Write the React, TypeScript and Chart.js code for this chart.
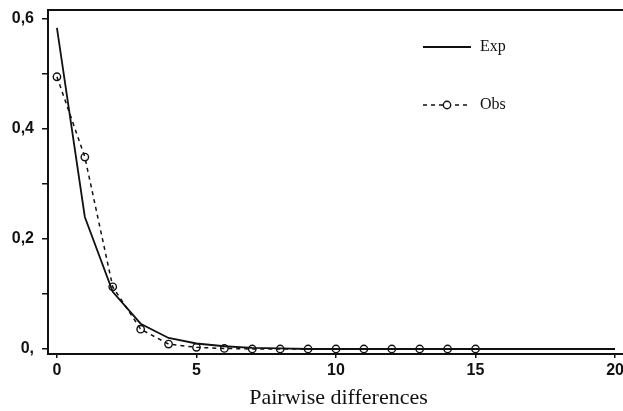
import React, { useEffect, useRef } from "react";
import { Chart, registerables } from "chart.js";

Chart.register(...registerables);

const expX = [0, 1, 2, 3, 4, 5, 6, 7, 8, 9, 10, 11, 12, 13, 14, 15, 16, 17, 18, 19, 20];
const expValues = [0.584, 0.24, 0.104, 0.046, 0.02, 0.01, 0.005, 0.002, 0.001, 0, 0, 0, 0, 0, 0, 0, 0, 0, 0, 0, 0];
const obsX = [0, 1, 2, 3, 4, 5, 6, 7, 8, 9, 10, 11, 12, 13, 14, 15];
const obsValues = [0.495, 0.349, 0.113, 0.036, 0.009, 0.003, 0.001, 0, 0, 0, 0, 0, 0, 0, 0, 0];
const xTicks = [0, 5, 10, 15, 20];
const yTicks = [0, 0.1, 0.2, 0.3, 0.4, 0.5, 0.6];
const yTickLabels = ["0,", "", "0,2", "", "0,4", "", "0,6"];
const seriesLabels = ["Exp", "Obs"];
const xTitle = "Pairwise differences";

const legendPlugin = {
  id: "insideLegend",
  afterDraw(chart: any) {
    const { ctx, chartArea } = chart;
    ctx.save();
    ctx.strokeStyle = "#111";
    ctx.lineWidth = 2;
    ctx.beginPath();
    ctx.moveTo(chartArea.left, chartArea.top);
    ctx.lineTo(chartArea.right, chartArea.top);
    ctx.stroke();

    const x0 = chartArea.left + 375;
    const x1 = chartArea.left + 423;
    const ys = [chartArea.top + 37, chartArea.top + 95];
    ctx.font = '16px "Liberation Serif", "Times New Roman", serif';
    ctx.textBaseline = "middle";
    ctx.fillStyle = "#111";
    chart.data.datasets.forEach((ds: any, i: number) => {
      const y = ys[i];
      ctx.strokeStyle = "#111";
      ctx.lineWidth = ds.borderWidth;
      ctx.setLineDash(ds.borderDash || []);
      ctx.beginPath();
      ctx.moveTo(x0, y);
      ctx.lineTo(x1, y);
      ctx.stroke();
      ctx.setLineDash([]);
      if (ds.pointRadius > 0) {
        ctx.lineWidth = 1.4;
        ctx.beginPath();
        ctx.arc((x0 + x1) / 2, y, ds.pointRadius, 0, Math.PI * 2);
        ctx.fillStyle = "#fff";
        ctx.fill();
        ctx.stroke();
        ctx.fillStyle = "#111";
      }
      ctx.fillText(ds.label, x1 + 9, y);
    });
    ctx.restore();
  },
};

export default function App() {
  const ref = useRef<HTMLCanvasElement | null>(null);
  useEffect(() => {
    if (!ref.current) return;
    const tickFont = { family: '"Liberation Sans", Arial, sans-serif', size: 16, weight: "bold" as const };
    const chart = new Chart(ref.current, {
      type: "line",
      data: {
        datasets: [
          {
            label: seriesLabels[0],
            data: expX.map((x, i) => ({ x, y: expValues[i] })),
            borderColor: "#111",
            borderWidth: 1.8,
            pointRadius: 0,
            tension: 0,
            fill: false,
          },
          {
            label: seriesLabels[1],
            data: obsX.map((x, i) => ({ x, y: obsValues[i] })),
            borderColor: "#111",
            borderWidth: 1.5,
            borderDash: [4, 4],
            pointRadius: 3.7,
            pointBorderWidth: 1.4,
            pointBorderColor: "#111",
            pointBackgroundColor: "rgba(0,0,0,0)",
            tension: 0,
            fill: false,
          },
        ],
      },
      options: {
        animation: false,
        responsive: false,
        layout: { padding: { top: 10, right: 11, left: 0, bottom: 0 } },
        plugins: { legend: { display: false }, tooltip: { enabled: false } },
        scales: {
          x: {
            type: "linear",
            min: -0.32,
            max: 20.5,
            afterBuildTicks: (s: any) => {
              s.ticks = xTicks.map((v) => ({ value: v }));
            },
            afterFit: (s: any) => {
              s.height = 57;
              s.paddingLeft = 0;
              s.paddingRight = 0;
            },
            ticks: {
              font: tickFont,
              color: "#111",
              padding: 3,
              maxRotation: 0,
              callback: (v: any) => String(v),
            },
            grid: { display: true, drawOnChartArea: false, drawTicks: true, tickLength: 4, color: "#111", lineWidth: 1.5 },
            border: { display: true, color: "#111", width: 2 },
            title: {
              display: true,
              text: xTitle,
              font: { family: '"Liberation Serif", "Times New Roman", serif', size: 22 },
              color: "#111",
              padding: { top: 0, bottom: 0 },
            },
          },
          y: {
            type: "linear",
            min: -0.0091,
            max: 0.6164,
            afterBuildTicks: (s: any) => {
              s.ticks = yTicks.map((v) => ({ value: v }));
            },
            afterFit: (s: any) => {
              s.width = 48;
              s.paddingTop = 0;
              s.paddingBottom = 0;
            },
            ticks: {
              font: tickFont,
              color: "#111",
              padding: 8,
              callback: (v: any) => {
                const i = yTicks.findIndex((t) => Math.abs(t - v) < 1e-6);
                return i >= 0 ? yTickLabels[i] : "";
              },
            },
            grid: { display: true, drawOnChartArea: false, drawTicks: true, tickLength: 6, color: "#111", lineWidth: 1.5 },
            border: { display: true, color: "#111", width: 2 },
          },
        },
      },
      plugins: [legendPlugin],
    });
    return () => chart.destroy();
  }, []);
  return (
    <div style={{ position: "absolute", left: 0, top: 0, width: 623, height: 411, overflow: "hidden", background: "#fff" }}>
      <canvas ref={ref} width={640} height={411} style={{ width: 640, height: 411, display: "block" }} />
    </div>
  );
}
